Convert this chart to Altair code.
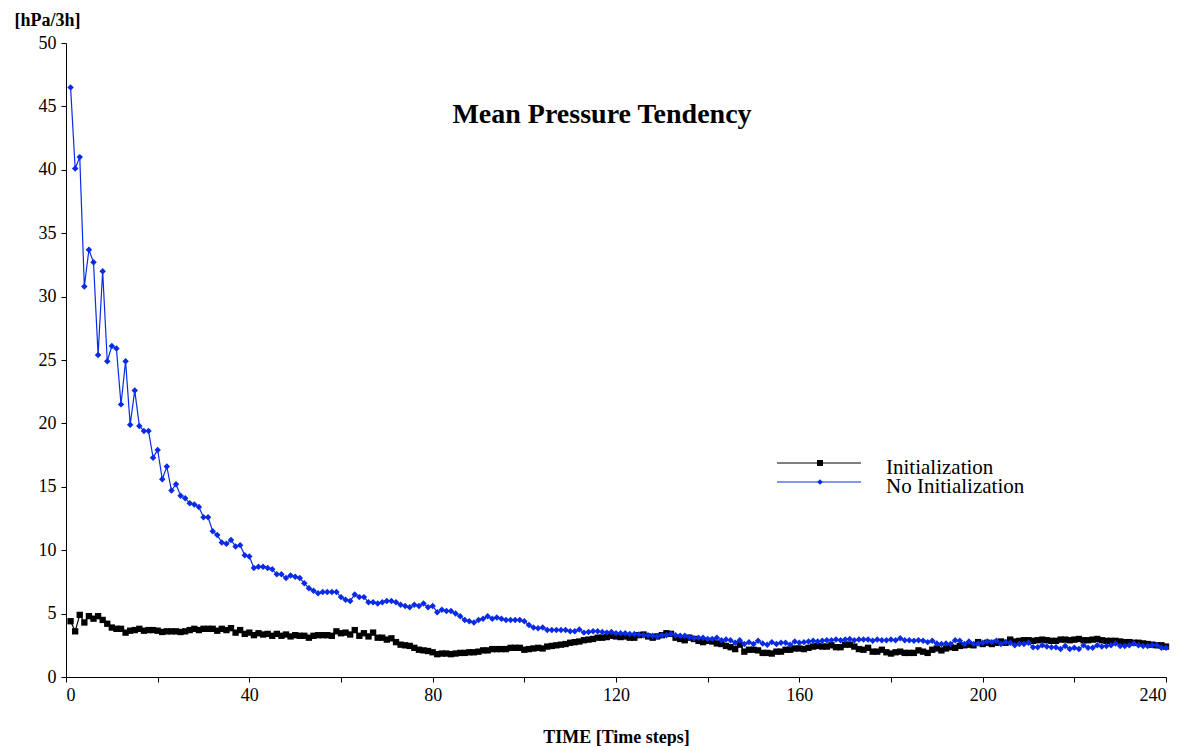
import altair as alt
import pandas as pd

# ---- data ----
time_steps = list(range(1, 241))

no_init = [
    46.5, 40.1, 41.0, 30.8, 33.7, 32.7, 25.4, 32.0, 24.9, 26.1,
    25.9, 21.5, 24.9, 19.9, 22.6, 19.8, 19.4, 19.4, 17.3, 17.9,
    15.6, 16.6, 14.7, 15.2, 14.3, 14.1, 13.7, 13.6, 13.4, 12.6,
    12.6, 11.5, 11.2, 10.6, 10.5, 10.8, 10.3, 10.4, 9.6, 9.5,
    8.6, 8.7, 8.7, 8.6, 8.5, 8.1, 8.1, 7.8, 8.0, 7.9,
    7.8, 7.4, 7.0, 6.8, 6.6, 6.7, 6.7, 6.7, 6.7, 6.3,
    6.1, 6.0, 6.5, 6.3, 6.3, 5.9, 5.9, 5.8, 5.9, 6.0,
    6.0, 5.9, 5.7, 5.6, 5.5, 5.7, 5.6, 5.8, 5.5, 5.6,
    5.1, 5.3, 5.2, 5.2, 5.0, 4.8, 4.5, 4.4, 4.3, 4.5,
    4.6, 4.8, 4.6, 4.7, 4.6, 4.5, 4.5, 4.5, 4.5, 4.4,
    4.1, 3.9, 3.85, 3.9, 3.7, 3.7, 3.7, 3.7, 3.7, 3.6,
    3.6, 3.75, 3.5, 3.55, 3.6, 3.6, 3.55, 3.5, 3.55, 3.45,
    3.45, 3.45, 3.4, 3.4, 3.35, 3.3, 3.3, 3.25, 3.2, 3.3,
    3.3, 3.4, 3.3, 3.25, 3.25, 3.15, 3.05, 3.1, 3.1, 3.0,
    3.0, 3.1, 2.9, 2.95, 2.9, 2.7, 2.9, 2.6, 2.75, 2.6,
    2.85, 2.65, 2.55, 2.75, 2.6, 2.7, 2.7, 2.55, 2.8, 2.7,
    2.75, 2.8, 2.85, 2.8, 2.85, 2.9, 2.9, 2.95, 2.9, 2.95,
    3.0, 2.9, 2.95, 2.95, 2.95, 2.85, 2.95, 2.9, 2.9, 2.95,
    2.9, 3.05, 2.9, 2.9, 2.85, 2.9, 2.85, 2.75, 2.85, 2.65,
    2.6, 2.65, 2.6, 2.9, 2.85, 2.6, 2.8, 2.6, 2.65, 2.7,
    2.8, 2.75, 2.85, 2.6, 2.75, 2.7, 2.5, 2.6, 2.6, 2.7,
    2.35, 2.35, 2.5, 2.4, 2.35, 2.35, 2.2, 2.45, 2.2, 2.3,
    2.2, 2.5, 2.3, 2.3, 2.5, 2.4, 2.45, 2.5, 2.65, 2.45,
    2.45, 2.5, 2.65, 2.5, 2.45, 2.45, 2.5, 2.5, 2.3, 2.3,
]

init = [
    4.4, 3.6, 4.9, 4.3, 4.8, 4.6, 4.8, 4.5, 4.2, 3.9,
    3.8, 3.8, 3.5, 3.65, 3.7, 3.8, 3.65, 3.7, 3.7, 3.65,
    3.55, 3.6, 3.6, 3.6, 3.55, 3.6, 3.7, 3.8, 3.7, 3.8,
    3.8, 3.8, 3.65, 3.8, 3.7, 3.85, 3.5, 3.7, 3.4, 3.5,
    3.3, 3.45, 3.35, 3.4, 3.25, 3.4, 3.25, 3.35, 3.2, 3.3,
    3.25, 3.25, 3.1, 3.25, 3.3, 3.3, 3.3, 3.25, 3.6, 3.45,
    3.5, 3.35, 3.7, 3.25, 3.45, 3.2, 3.5, 3.1, 3.1, 2.95,
    3.05, 2.75, 2.55, 2.5, 2.45, 2.3, 2.15, 2.1, 2.05, 1.95,
    1.8, 1.85, 1.85, 1.8, 1.85, 1.9, 1.9, 1.95, 1.95, 2.0,
    2.1, 2.1, 2.2, 2.2, 2.2, 2.2, 2.3, 2.3, 2.3, 2.15,
    2.2, 2.25, 2.3, 2.25, 2.4, 2.45, 2.5, 2.55, 2.6, 2.7,
    2.75, 2.8, 2.9, 2.95, 3.0, 3.1, 3.1, 3.15, 3.25, 3.2,
    3.15, 3.2, 3.1, 3.1, 3.3, 3.35, 3.2, 3.1, 3.2, 3.3,
    3.45, 3.4, 3.1, 3.0, 2.9, 3.1, 3.0, 2.85, 2.75, 2.85,
    2.8, 2.65, 2.6, 2.45, 2.35, 2.2, 2.55, 2.0, 2.15, 2.15,
    2.1, 1.9, 1.9, 1.85, 2.0, 2.0, 2.15, 2.15, 2.25, 2.25,
    2.2, 2.3, 2.4, 2.45, 2.4, 2.4, 2.5, 2.35, 2.35, 2.55,
    2.55, 2.4, 2.2, 2.15, 2.3, 2.0, 2.0, 2.15, 1.95, 1.85,
    1.95, 2.0, 1.9, 1.9, 1.9, 2.1, 2.0, 1.9, 2.15, 2.25,
    2.1, 2.25, 2.35, 2.3, 2.45, 2.5, 2.55, 2.5, 2.75, 2.6,
    2.7, 2.6, 2.7, 2.8, 2.7, 2.95, 2.8, 2.85, 2.9, 2.9,
    2.85, 2.9, 2.95, 2.9, 2.85, 2.85, 2.95, 2.95, 2.9, 2.95,
    3.0, 2.9, 2.9, 2.95, 3.0, 2.9, 2.85, 2.85, 2.85, 2.8,
    2.75, 2.75, 2.7, 2.7, 2.65, 2.6, 2.55, 2.5, 2.5, 2.4,
]

series_names = ["Initialization", "No Initialization"]
chart_title = "Mean Pressure Tendency"
x_title = "TIME [Time steps]"
y_title = "[hPa/3h]"
x_ticks = list(range(0, 241, 20))
y_ticks = [i * 2.5 for i in range(21)]

FONT = "Liberation Serif"
BLUE = "#0a2be6"
W, H = 1100, 634

df_init = pd.DataFrame({"t": time_steps, "v": init})
df_no = pd.DataFrame({"t": time_steps, "v": no_init})

x_enc = alt.X(
    "t:Q",
    scale=alt.Scale(domain=[0, 240], nice=False, zero=True),
    axis=alt.Axis(
        values=x_ticks,
        labelExpr="datum.value % 40 == 0 ? datum.label : ''",
        labelFont=FONT, labelFontSize=18, labelColor="black",
        title=x_title,
        titleFont=FONT, titleFontSize=18, titleFontWeight="bold", titleColor="black",
        titleY=65, titleBaseline="alphabetic",
        tickSize=5, labelPadding=4,
    ),
)
y_enc = alt.Y(
    "v:Q",
    scale=alt.Scale(domain=[0, 50], nice=False),
    axis=alt.Axis(
        values=y_ticks,
        labelExpr="datum.value % 5 == 0 ? datum.label : ''",
        labelFont=FONT, labelFontSize=18, labelColor="black",
        title=y_title,
        titleFont=FONT, titleFontSize=18, titleFontWeight="bold", titleColor="black",
        titleAngle=0, titleX=-19, titleY=-18,
        titleAlign="center", titleBaseline="alphabetic",
        tickSize=5, labelPadding=5,
    ),
)

line_init = alt.Chart(df_init).mark_line(
    color="black", strokeWidth=1.2,
    point=alt.OverlayMarkDef(shape="square", size=40, filled=True, color="black", opacity=1),
).encode(x=x_enc, y=y_enc)

line_no = alt.Chart(df_no).mark_line(
    color=BLUE, strokeWidth=1.2,
    point=alt.OverlayMarkDef(shape="diamond", size=42, filled=True, color=BLUE, opacity=1),
).encode(x="t:Q", y="v:Q")

one = pd.DataFrame({"k": [0]})

title_mark = alt.Chart(one).mark_text(
    text=chart_title, font=FONT, fontSize=28, fontWeight="bold",
    align="center", baseline="alphabetic", color="black",
).encode(x=alt.value(536), y=alt.value(80))

# manual legend
leg_rule1 = alt.Chart(one).mark_rule(color="black", strokeWidth=1).encode(
    x=alt.value(711), x2=alt.value(795), y=alt.value(420))
leg_pt1 = alt.Chart(one).mark_point(shape="square", size=36, filled=True, color="black", opacity=1).encode(
    x=alt.value(754), y=alt.value(420))
leg_rule2 = alt.Chart(one).mark_rule(color=BLUE, strokeWidth=1).encode(
    x=alt.value(711), x2=alt.value(795), y=alt.value(439))
leg_pt2 = alt.Chart(one).mark_point(shape="diamond", size=30, filled=True, color=BLUE, opacity=1).encode(
    x=alt.value(754), y=alt.value(439))
leg_txt1 = alt.Chart(one).mark_text(
    text=series_names[0], font=FONT, fontSize=21, align="left", baseline="alphabetic", color="black",
).encode(x=alt.value(820), y=alt.value(431))
leg_txt2 = alt.Chart(one).mark_text(
    text=series_names[1], font=FONT, fontSize=21, align="left", baseline="alphabetic", color="black",
).encode(x=alt.value(820), y=alt.value(450))

chart = alt.layer(
    line_init, line_no, title_mark,
    leg_rule1, leg_pt1, leg_rule2, leg_pt2, leg_txt1, leg_txt2,
).properties(
    width=W, height=H,
    autosize=alt.AutoSizeParams(type="none"),
    padding={"left": 66, "top": 43, "right": 20, "bottom": 69},
    background="white",
).configure_view(
    stroke=None,
).configure_axis(
    grid=False,
    domainColor="black", domainWidth=1,
    tickColor="black", tickWidth=1,
)

chart.save("out.html", embed_options={"renderer": "svg", "actions": False})
